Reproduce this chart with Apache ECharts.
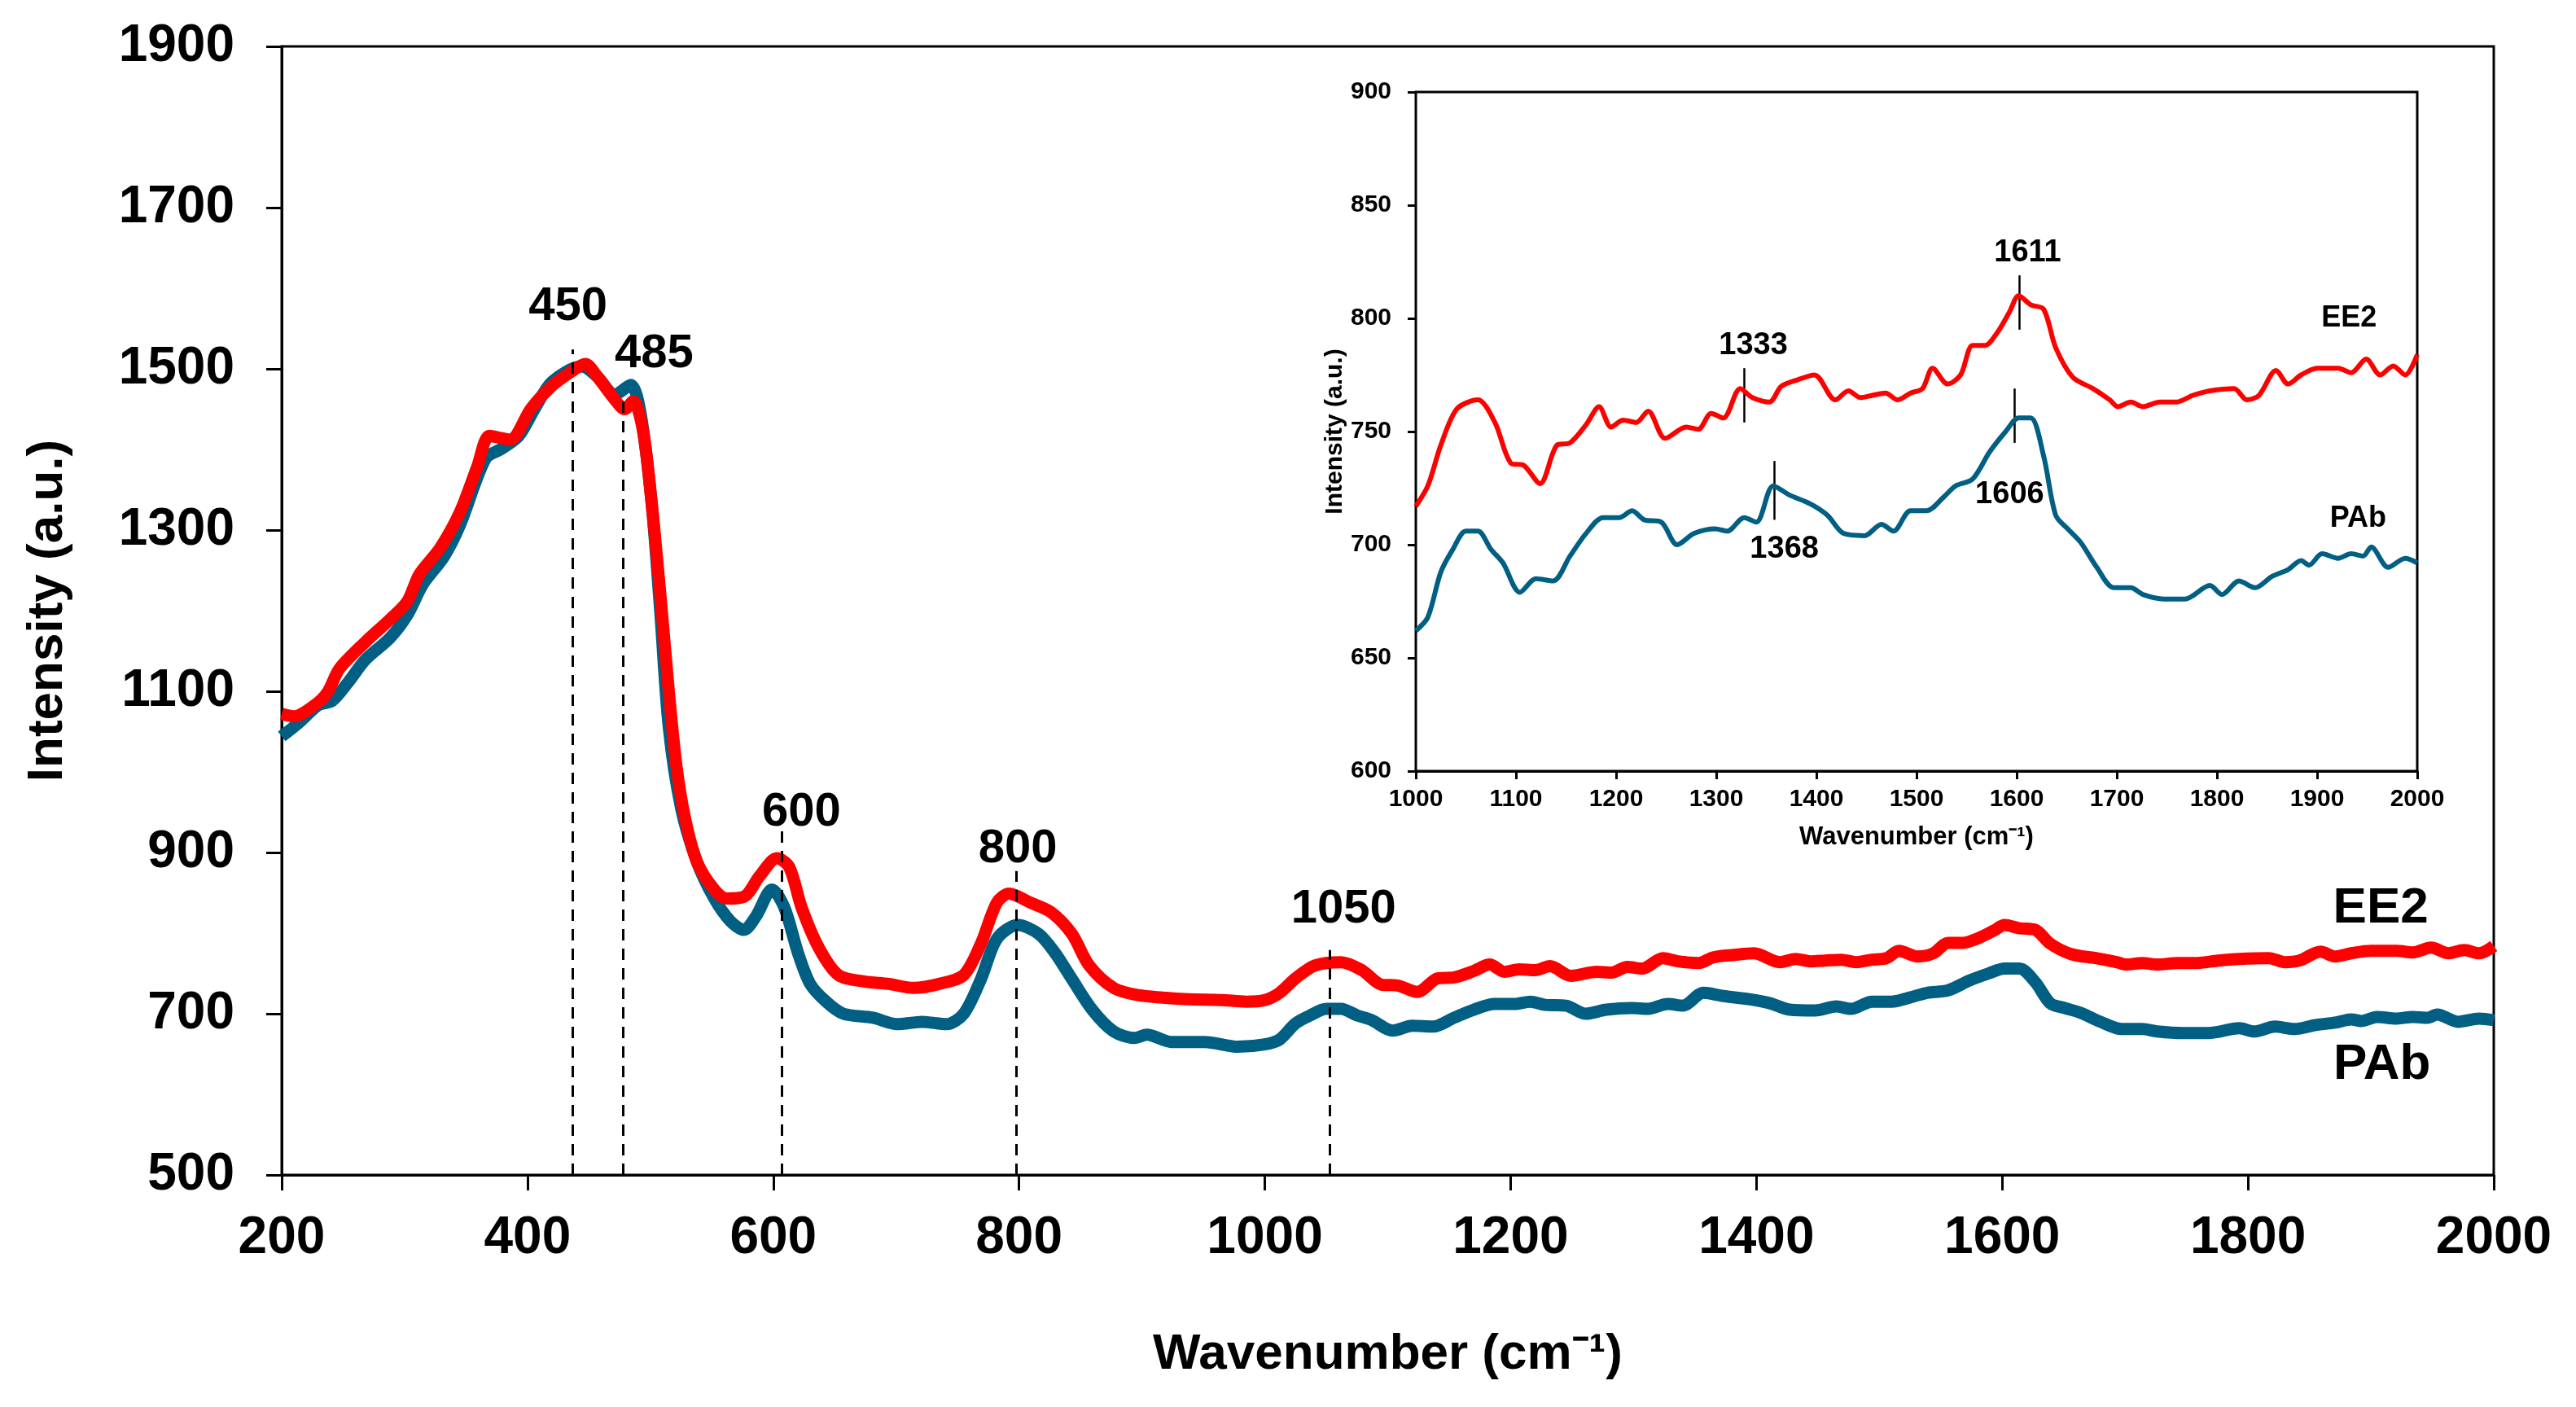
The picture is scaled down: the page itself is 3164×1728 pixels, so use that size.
<!DOCTYPE html>
<html>
<head>
<meta charset="utf-8">
<script src="https://cdn.jsdelivr.net/npm/echarts@6/dist/echarts.min.js"></script>
<style>
html,body{margin:0;padding:0;background:#fff;}
#chart{width:3164px;height:1728px;}
</style>
</head>
<body>
<div id="chart"></div>
<script>
// ---------------- DATA ----------------
const ee2Wavenumber = [200,210,227,237,247,268,288,302,312,329,345,359,369,379,386,403,420,437,447,457,471,479,486,494,501,508,515,521,528,538,552,562,576,589,603,613,623,637,653,674,694,714,735,755,769,782,792,809,826,843,857,877,897,917,938,965,985,
  1000,1012,1025,1041,1062,1079,1095,1108,1124,1141,1154,1170,1183,1195,1207,1220,1232,1249,1270,1282,1295,1307,1324,1336,1353,1365,1382,1398,1419,1432,1444,1456,1469,1481,1494,1506,1516,1531,1544,1556,1568,1581,1593,1602,1614,1627,1639,1656,1676,1693,1701,1714,1726,1743,1759,1776,1793,1817,1830,1842,1859,1871,1884,1900,1921,1934,1949,1963,1976,1988,2000];
const ee2Intensity = [1072,1069,1083,1098,1128,1161,1189,1211,1245,1278,1322,1378,1417,1414,1412,1451,1479,1498,1506,1490,1462,1450,1460,1423,1334,1222,1100,1010,944,888,854,843,845,871,893,882,832,782,748,740,737,732,737,748,787,838,849,838,826,799,760,732,723,720,718,717,715,
  717,726,744,760,764,754,736,735,727,744,745,753,761,752,755,754,759,747,752,751,758,756,769,765,763,770,773,775,764,768,765,766,767,764,767,769,778,771,775,788,788,794,803,810,806,804,787,774,769,764,761,763,761,763,763,766,768,769,764,766,777,771,775,778,778,776,782,775,779,775,784];

const pabWavenumber = [200,214,230,241,254,268,288,302,315,332,345,366,379,393,406,420,444,457,471,484,492,501,508,515,525,538,552,565,576,586,599,609,620,630,643,657,681,701,721,741,755,769,782,799,816,829,843,860,877,894,904,924,951,978,
  1000,1012,1025,1037,1050,1062,1075,1087,1104,1120,1137,1154,1170,1187,1203,1216,1228,1245,1261,1278,1299,1311,1328,1340,1357,1373,1394,1411,1427,1448,1465,1477,1494,1510,1527,1539,1556,1573,1589,1602,1614,1627,1639,1651,1664,1680,1697,1714,1726,1747,1768,1793,1805,1822,1838,1855,1871,1884,1892,1905,1921,1934,1946,1954,1971,1988,2000];
const pabIntensity = [1044,1061,1083,1088,1111,1139,1166,1194,1233,1267,1306,1389,1401,1417,1451,1484,1503,1490,1468,1480,1445,1334,1200,1055,955,888,843,815,804,821,854,832,776,737,715,700,695,687,690,687,700,743,793,810,799,776,743,704,678,670,674,665,665,659,
  662,668,688,698,706,706,698,692,679,685,684,695,705,712,712,715,711,710,700,705,707,706,712,710,726,722,718,713,705,704,709,706,715,715,721,726,729,741,750,756,756,739,713,707,701,690,681,681,678,676,676,682,678,684,681,686,689,693,691,696,694,696,695,699,690,694,692];

// main-panel peak annotations (data units)
const peakLabels   = ['450','485','600','800','1050'];
const peakLineX    = [437, 478, 607, 798, 1053];
const peakLineTop  = [1524, 1460, 927, 877, 779];
const peakLabelX   = [433, 503, 623, 799, 1064];
const peakLabelY   = [1577, 1518, 949, 904, 829];

// inset peak annotations (data units)
const insetLabels     = ['1611','1333','1368','1606'];
const insetLineX      = [1603, 1328, 1358, 1598];
const insetLineBottom = [795, 754, 711, 745];
const insetLineTop    = [819, 778, 737, 769];
const insetLabelX     = [1611, 1337, 1368, 1593];
const insetLabelY     = [829, 788, 698, 722];

// series names
const seriesNames = ['EE2','PAb'];

// ---------------- BUILD ----------------
const zip = (xs, ys) => xs.map((x,i)=>[x, ys[i]]);
const ee2 = zip(ee2Wavenumber, ee2Intensity);
const pab = zip(pabWavenumber, pabIntensity);
const ee2Inset = ee2.filter(p=>p[0]>=1000);
const pabInset = pab.filter(p=>p[0]>=1000);

const FONT = 'Liberation Sans, Arial, Helvetica, sans-serif';
const RED = '#FF0000';
const BLUE = '#005F83';

const chart = echarts.init(document.getElementById('chart'), null, {renderer:'canvas'});

const axisCommon = (fs) => ({
  axisLine:{show:true, onZero:false, lineStyle:{color:'#000', width:3}},
  axisTick:{show:true, inside:false, lineStyle:{color:'#000', width:3}},
  splitLine:{show:false},
  axisLabel:{color:'#000', fontFamily:FONT, fontWeight:'bold', fontSize:fs, formatter:(v)=>String(v)},
});

const mainX = Object.assign(axisCommon(64), {
  type:'value', gridIndex:0, min:200, max:2000, interval:200,
  name:'Wavenumber (cm\u207B\u00B9)', nameLocation:'middle', nameGap:190,
  nameTextStyle:{color:'#000', fontFamily:FONT, fontWeight:'bold', fontSize:62},
});
mainX.axisTick.length = 19; mainX.axisLabel.margin = 46;

const mainY = Object.assign(axisCommon(64), {
  type:'value', gridIndex:0, min:500, max:1900, interval:200,
  name:'Intensity (a.u.)', nameLocation:'middle', nameGap:256,
  nameTextStyle:{color:'#000', fontFamily:FONT, fontWeight:'bold', fontSize:62},
});
mainY.axisTick.length = 19; mainY.axisLabel.margin = 58;

const insetX = Object.assign(axisCommon(30), {
  type:'value', gridIndex:1, min:1000, max:2000, interval:100,
  name:'Wavenumber (cm\u207B\u00B9)', nameLocation:'middle', nameGap:66,
  nameTextStyle:{color:'#000', fontFamily:FONT, fontWeight:'bold', fontSize:31},
});
insetX.axisTick.length = 10; insetX.axisLabel.margin = 20;

const insetY = Object.assign(axisCommon(30), {
  type:'value', gridIndex:1, min:600, max:900, interval:50,
  name:'Intensity (a.u.)', nameLocation:'middle', nameGap:84,
  nameTextStyle:{color:'#000', fontFamily:FONT, fontWeight:'bold', fontSize:30},
});
insetY.axisTick.length = 10; insetY.axisLabel.margin = 30;

const labelStyle = (fs) => ({show:true, position:'inside', color:'#000', fontFamily:FONT, fontWeight:'bold', fontSize:fs});

const option = {
  backgroundColor:'#fff',
  animation:false,
  grid:[
    {left:346, right:101, top:57, bottom:285, show:true, borderColor:'#000', borderWidth:3, backgroundColor:'transparent'},
    {left:1739, right:195, top:113, bottom:781, show:true, borderColor:'#000', borderWidth:3, backgroundColor:'#fff', z:5}
  ],
  xAxis:[mainX, insetX],
  yAxis:[mainY, insetY],
  series:[
    {name:seriesNames[1], type:'line', xAxisIndex:0, yAxisIndex:0, data:pab, showSymbol:false, smooth:0.3,
     lineStyle:{color:BLUE, width:15}, itemStyle:{color:BLUE}, z:2},
    {name:seriesNames[0], type:'line', xAxisIndex:0, yAxisIndex:0, data:ee2, showSymbol:false, smooth:0.3,
     lineStyle:{color:RED, width:15}, itemStyle:{color:RED}, z:3},
    // main annotations
    {type:'line', xAxisIndex:0, yAxisIndex:0, data:[], z:4, silent:true,
     markLine:{silent:true, symbol:['none','none'], animation:false,
       lineStyle:{color:'#000', width:3, type:[14,10]}, label:{show:false},
       data: peakLineX.map((x,i)=>[{coord:[x,500]},{coord:[x,peakLineTop[i]]}])},
     markPoint:{silent:true, symbol:'circle', symbolSize:0, animation:false,
       label: labelStyle(58),
       data: peakLabels.map((t,i)=>({name:t, value:t, coord:[peakLabelX[i], peakLabelY[i]], label:{formatter:t}}))
         .concat([
           {name:'EE2', coord:[1908, 830], label:{formatter:seriesNames[0], fontSize:62}},
           {name:'PAb', coord:[1909, 636], label:{formatter:seriesNames[1], fontSize:62}}
         ])}
    },
    // inset
    {name:seriesNames[1]+' inset', type:'line', xAxisIndex:1, yAxisIndex:1, data:pabInset, showSymbol:false, smooth:0.3,
     lineStyle:{color:BLUE, width:6}, itemStyle:{color:BLUE}, z:6},
    {name:seriesNames[0]+' inset', type:'line', xAxisIndex:1, yAxisIndex:1, data:ee2Inset, showSymbol:false, smooth:0.3,
     lineStyle:{color:RED, width:6}, itemStyle:{color:RED}, z:6},
    {type:'line', xAxisIndex:1, yAxisIndex:1, data:[], z:7, silent:true,
     markLine:{silent:true, symbol:['none','none'], animation:false,
       lineStyle:{color:'#000', width:2.5, type:'solid'}, label:{show:false},
       data: insetLineX.map((x,i)=>[{coord:[x,insetLineBottom[i]]},{coord:[x,insetLineTop[i]]}])},
     markPoint:{silent:true, symbol:'circle', symbolSize:0, animation:false,
       label: labelStyle(38),
       data: insetLabels.map((t,i)=>({name:t, coord:[insetLabelX[i], insetLabelY[i]], label:{formatter:t}}))
         .concat([
           {name:'EE2i', coord:[1932, 800], label:{formatter:seriesNames[0], fontSize:36}},
           {name:'PAbi', coord:[1941, 711.5], label:{formatter:seriesNames[1], fontSize:36}}
         ])}
    }
  ]
};
chart.setOption(option);
</script>
</body>
</html>
